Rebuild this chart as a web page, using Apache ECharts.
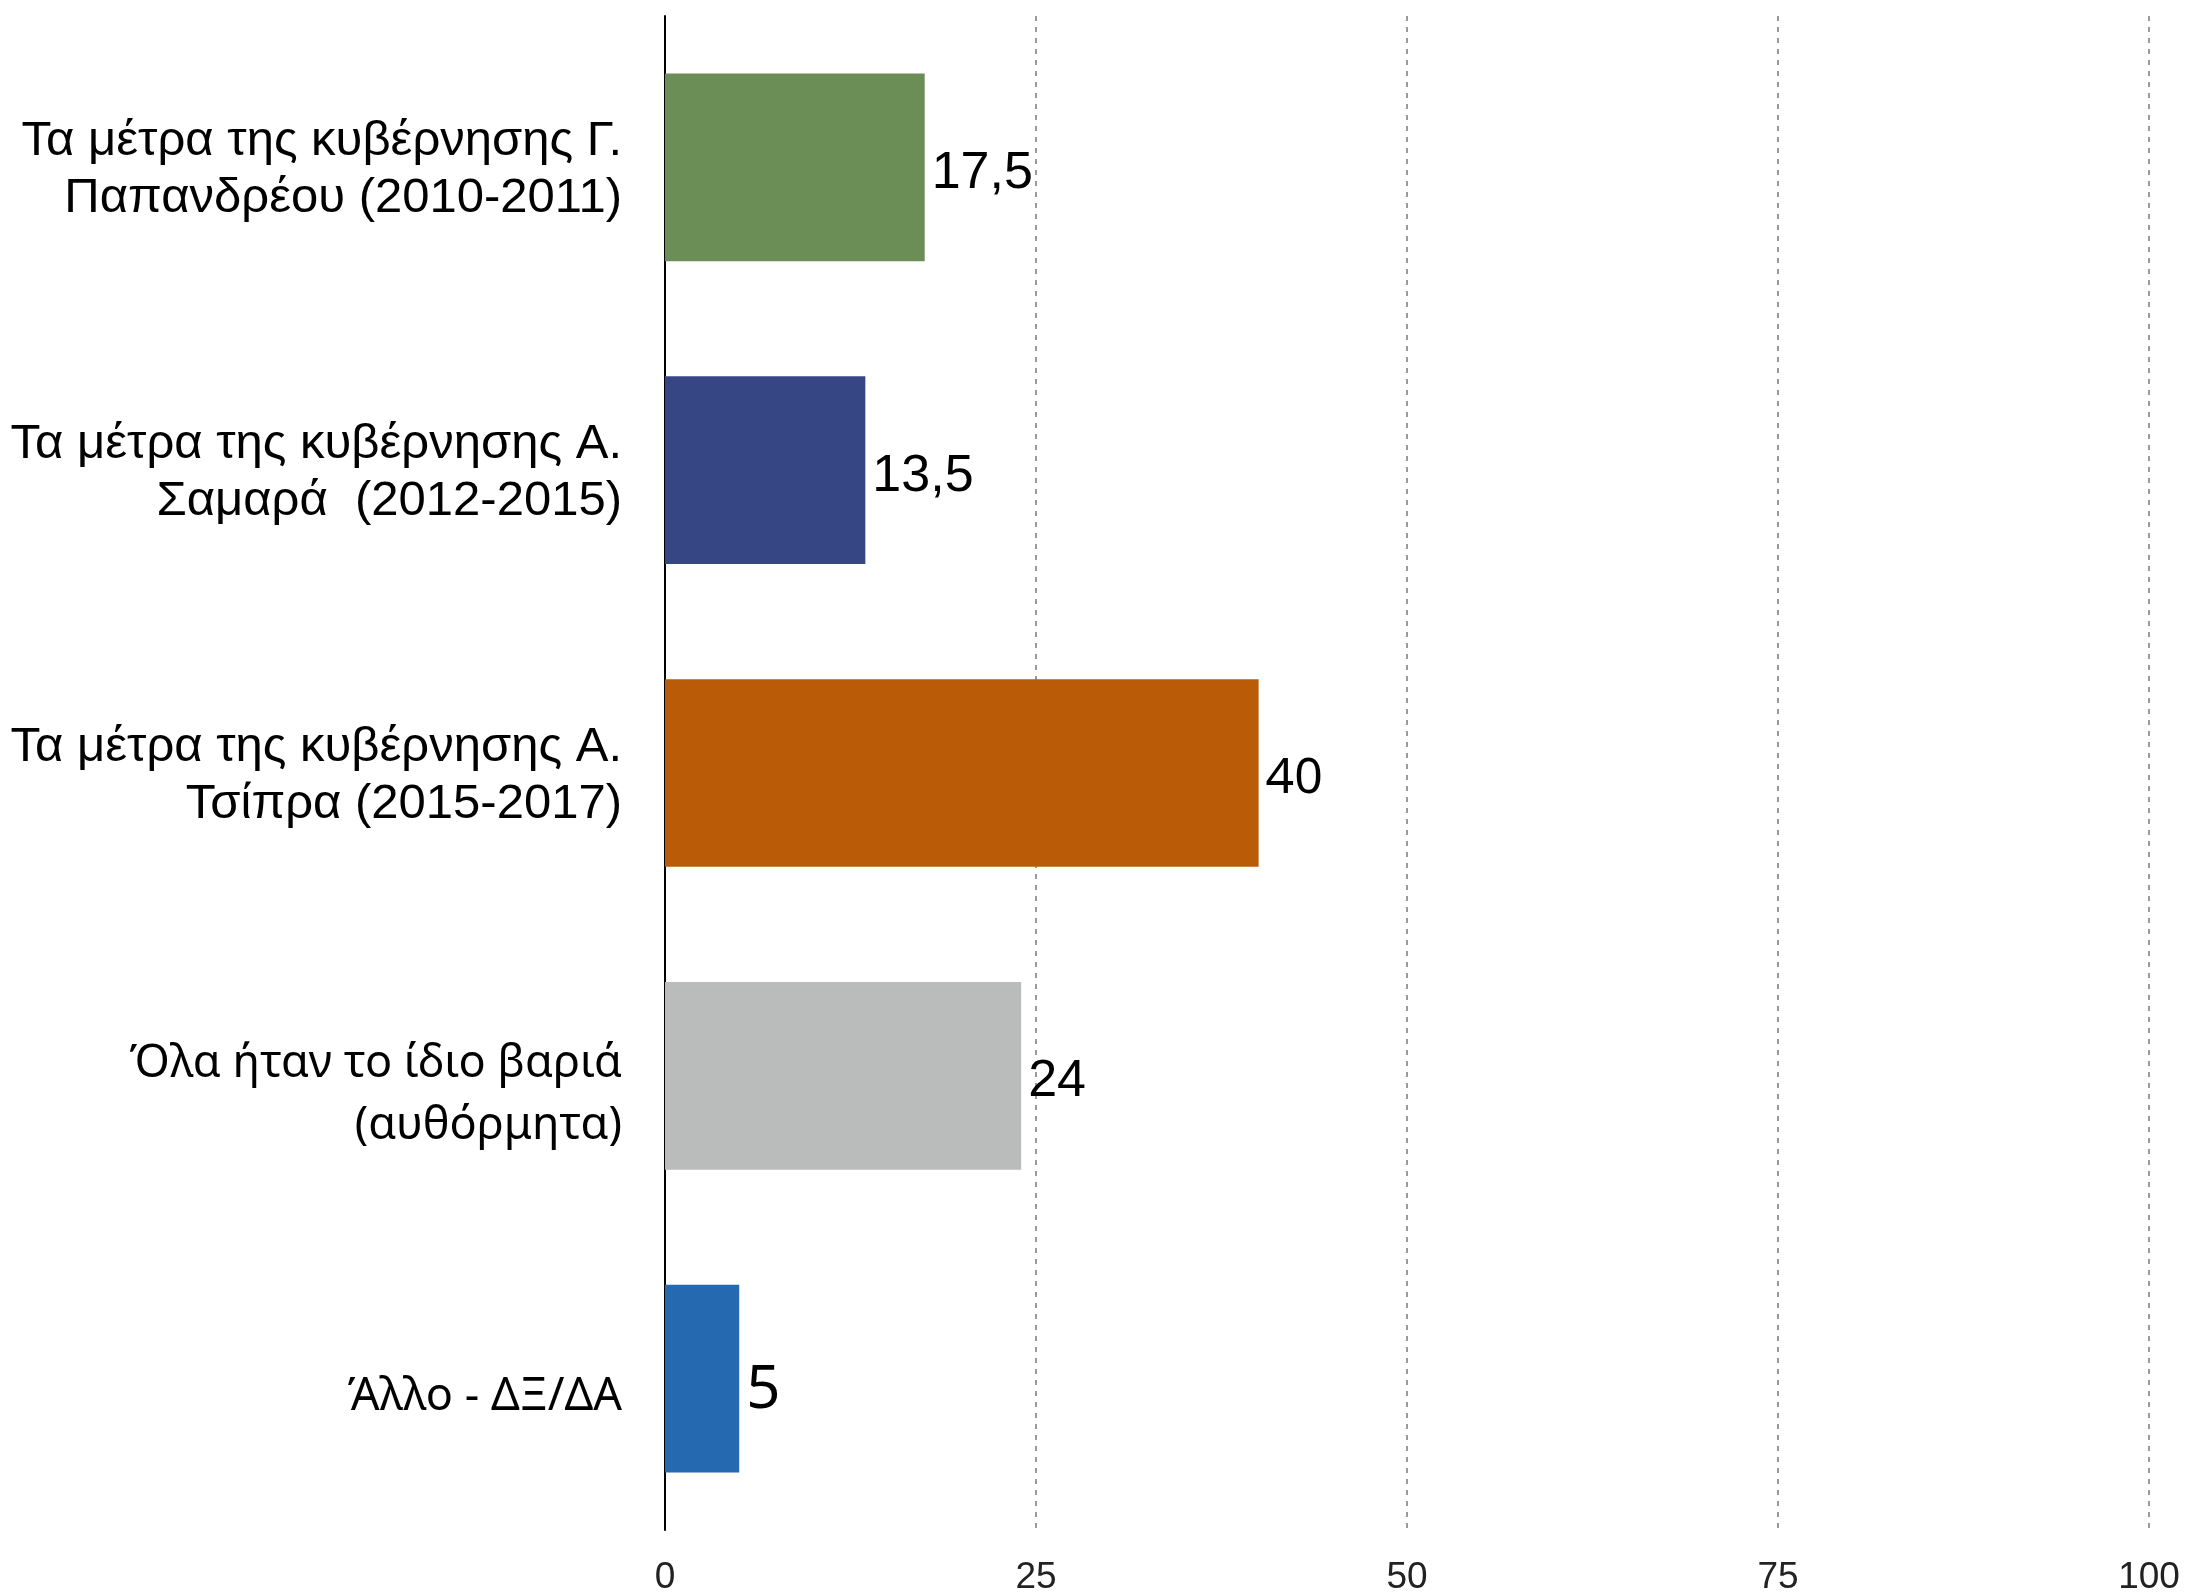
<!DOCTYPE html>
<html>
<head>
<meta charset="utf-8">
<script src="https://cdn.jsdelivr.net/npm/echarts@6/dist/echarts.min.js"></script>
<style>
  html, body { margin: 0; padding: 0; background: #fff; }
  #chart { width: 2202px; height: 1596px; }
</style>
</head>
<body>
<div id="chart"></div>
<script>
// categories (top to bottom)
const categories = [
  'Τα μέτρα της κυβέρνησης Γ.\nΠαπανδρέου (2010-2011)',
  'Τα μέτρα της κυβέρνησης Α.\nΣαμαρά  (2012-2015)',
  'Τα μέτρα της κυβέρνησης Α.\nΤσίπρα (2015-2017)',
  'Όλα ήταν το ίδιο βαριά\n(αυθόρμητα)',
  'Άλλο - ΔΞ/ΔΑ'
]
const values = [17.5, 13.5, 40, 24, 5]
const xTicks = [0, 25, 50, 75, 100]

// bar colours
const palette = ['#6a8e55', '#364684', '#ba5b08', '#b9bcbb', '#2569b1']

const chart = echarts.init(document.getElementById('chart'))

// wrap each line of a label in a rich style; the last two use another typeface
// and sit a little lower, so a small empty line is put above them
function richLabel(v, i) {
  const lines = v.split('\n')
  if (i < 3) return lines.map(l => '{a|' + l + '}').join('\n')
  return '{sp| }\n' + lines.map(l => '{b|' + l + '}').join('\n')
}

const option = {
  animation: false,
  backgroundColor: '#fff',
  grid: {
    left: 665,
    right: 53,
    top: 16,
    bottom: 58
  },
  xAxis: {
    type: 'value',
    min: xTicks[0],
    max: xTicks[xTicks.length - 1],
    interval: xTicks[1] - xTicks[0],
    axisLine: { show: false },
    axisTick: { show: false },
    axisLabel: {
      margin: 29,
      fontSize: 37,
      fontFamily: 'Liberation Sans',
      color: '#222'
    },
    splitLine: {
      show: true,
      lineStyle: { color: '#9a9a9a', width: 2, type: [5, 6] }
    }
  },
  yAxis: {
    type: 'category',
    inverse: true,
    data: categories,
    axisLine: { show: true, lineStyle: { color: '#000', width: 2 } },
    axisTick: { show: false },
    axisLabel: {
      margin: 43,
      align: 'right',
      formatter: richLabel,
      rich: {
        a: { fontSize: 49, lineHeight: 57, fontFamily: 'Liberation Sans', color: '#000', padding: [6, 0, 0, 0] },
        sp: { fontSize: 10, lineHeight: 38 },
        b: { fontSize: 45, lineHeight: 62, fontFamily: 'Noto Sans', color: '#000' }
      }
    }
  },
  series: [
    {
      type: 'bar',
      barCategoryGap: '38%',
      data: values.map((v, i) => ({
        value: v,
        itemStyle: { color: palette[i] },
        label: {
          fontSize: i === 4 ? 60 : (i === 2 ? 50 : 52),
          fontFamily: (i === 2 || i === 4) ? 'Noto Sans' : 'Liberation Sans',
          offset: [0, i === 4 ? 12 : 6]
        }
      })),
      label: {
        show: true,
        position: 'right',
        distance: 7,
        color: '#000',
        formatter: p => String(p.value).replace('.', ',')
      }
    }
  ]
}

chart.setOption(option)
</script>
</body>
</html>
